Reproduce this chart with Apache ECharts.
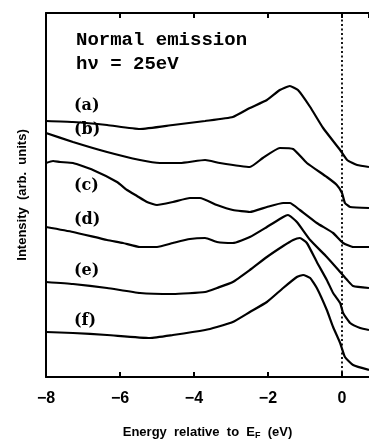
<!DOCTYPE html>
<html>
<head>
<meta charset="utf-8">
<script src="https://cdn.jsdelivr.net/npm/echarts@6/dist/echarts.min.js"></script>
<style>
  html, body { margin: 0; padding: 0; background: #fff; }
  #chart { width: 369px; height: 439px; }
</style>
</head>
<body>
<div id="chart"></div>
<script>
// spectra: [energy (eV), intensity (arb.)]
const curveA = [[-8,256],[-7.27,255],[-6.35,252],[-5.46,248],[-4.57,252],[-3.70,256],[-2.95,260],[-2.49,269],[-2.03,277],[-1.68,287],[-1.41,291],[-1.19,287],[-0.86,270],[-0.51,249],[-0.05,227],[0.14,217],[0.41,212],[0.73,210]];
const curveB = [[-8,244],[-7.27,235],[-6.35,225],[-5.46,217],[-4.92,214],[-4.38,214],[-3.70,217],[-3.30,214],[-2.49,210],[-2.14,219],[-1.68,229],[-1.32,228],[-0.95,214],[-0.41,200],[-0.14,192],[0,184],[0.08,174],[0.22,170],[0.73,169]];
const curveC = [[-8,214],[-7.81,216],[-7.62,215],[-7.27,214],[-6.73,207],[-6.08,195],[-5.81,187],[-5.54,181],[-5.27,175],[-5.00,172],[-4.57,175],[-4.11,179],[-3.84,179],[-3.38,172],[-2.95,167],[-2.49,165],[-2.03,170],[-1.59,174],[-1.41,174],[-1.14,167],[-0.68,154],[-0.24,144],[0.03,134],[0.30,130],[0.73,130]];
const curveD = [[-8,150],[-7.27,145],[-6.35,137],[-5.92,134],[-5.46,130],[-5.00,130],[-4.57,134],[-4.11,138],[-3.70,139],[-3.38,135],[-2.95,134],[-2.49,140],[-2.03,150],[-1.59,160],[-1.46,162],[-1.22,155],[-0.86,137],[-0.41,120],[-0.05,105],[0.14,97],[0.30,91],[0.73,89]];
const curveE = [[-8,95],[-7.27,93],[-6.35,89],[-5.46,84],[-4.57,83],[-3.70,85],[-3.38,89],[-2.95,95],[-2.49,107],[-2.03,120],[-1.59,131],[-1.32,137],[-1.14,139],[-0.95,134],[-0.68,115],[-0.41,97],[-0.24,84],[-0.05,74],[0.03,64],[0.22,54],[0.49,49],[0.73,47]];
const curveF = [[-8,45],[-7.27,44],[-6.35,42],[-5.19,39],[-4.57,42],[-3.70,47],[-3.38,50],[-2.95,55],[-2.49,65],[-2.03,75],[-1.59,89],[-1.22,100],[-1.05,102],[-0.86,99],[-0.68,89],[-0.41,67],[-0.24,50],[-0.05,34],[0.08,20],[0.30,12],[0.73,7]];

const curveNames = ['(a)', '(b)', '(c)', '(d)', '(e)', '(f)'];
const curves = [curveA, curveB, curveC, curveD, curveE, curveF];
const xTicks = [-8, -6, -4, -2, 0];
const fermiLine = [[0, 0], [0, 364]];

const chart = echarts.init(document.getElementById('chart'));

const series = [{
  name: 'EF',
  type: 'line',
  data: fermiLine,
  symbol: 'none',
  silent: true,
  lineStyle: { color: '#000', type: [2, 2.5], width: 1.8 },
  z: 2,
}].concat(curves.map((data, i) => ({
  name: curveNames[i],
  type: 'line',
  data: data,
  smooth: 0.15,
  symbol: 'none',
  lineStyle: { color: '#000', width: 2.2 },
  z: 3,
})));

// curve labels
const labelPos = [[74, 98], [74, 122], [74, 178], [74, 212], [74, 263], [74, 313]];

const option = {
  backgroundColor: '#fff',
  animation: false,
  grid: { left: 46, right: 0, top: 13, bottom: 62, outerBoundsMode: 'none' },
  xAxis: [
    {
      type: 'value',
      min: -8,
      max: 0.73,
      interval: 2,
      axisLine: { onZero: false, lineStyle: { color: '#000', width: 2 } },
      axisTick: { inside: true, length: 5, lineStyle: { color: '#000', width: 2 } },
      axisLabel: {
        color: '#000',
        fontFamily: 'Liberation Sans',
        fontWeight: 'bold',
        fontSize: 16,
        margin: 14,
        showMaxLabel: false,
        formatter: (v) => (xTicks.includes(v) ? String(v).replace('-', '\u2212') : ''),
      },
      splitLine: { show: false },
      name: 'Energy  relative  to  E{sub|F}  (eV)',
      nameLocation: 'middle',
      nameGap: 48,
      nameTextStyle: {
        color: '#000',
        fontFamily: 'Liberation Sans',
        fontWeight: 'bold',
        fontSize: 13,
        rich: {
          sub: { fontSize: 9, fontWeight: 'bold', fontFamily: 'Liberation Sans', verticalAlign: 'bottom', padding: [6, 0, 0, 0] },
        },
      },
    },
    {
      type: 'value',
      position: 'top',
      min: -8,
      max: 0.73,
      interval: 2,
      axisLine: { onZero: false, lineStyle: { color: '#000', width: 2 } },
      axisTick: { inside: true, length: 5, lineStyle: { color: '#000', width: 2 } },
      axisLabel: { show: false },
      splitLine: { show: false },
    },
  ],
  yAxis: {
    type: 'value',
    min: 0,
    max: 364,
    axisLine: { show: true, onZero: false, lineStyle: { color: '#000', width: 2 } },
    axisTick: { show: false },
    axisLabel: { show: false },
    splitLine: { show: false },
    name: 'Intensity  (arb.  units)',
    nameLocation: 'middle',
    nameGap: 17,
    nameTextStyle: {
      color: '#000',
      fontFamily: 'Liberation Sans',
      fontWeight: 'bold',
      fontSize: 13,
    },
  },
  graphic: [
    {
      type: 'text',
      left: 76,
      top: 28,
      style: {
        text: 'Normal emission\nh\u03bd = 25eV',
        fill: '#000',
        font: 'bold 19px "Liberation Mono"',
        lineHeight: 24,
      },
    },
  ].concat(labelPos.map((p, i) => ({
    type: 'text',
    left: p[0],
    top: p[1],
    style: {
      text: curveNames[i],
      fill: '#000',
      font: 'bold 16px "DejaVu Serif"',
    },
  }))),
  series: series,
};

chart.setOption(option);
</script>
</body>
</html>
